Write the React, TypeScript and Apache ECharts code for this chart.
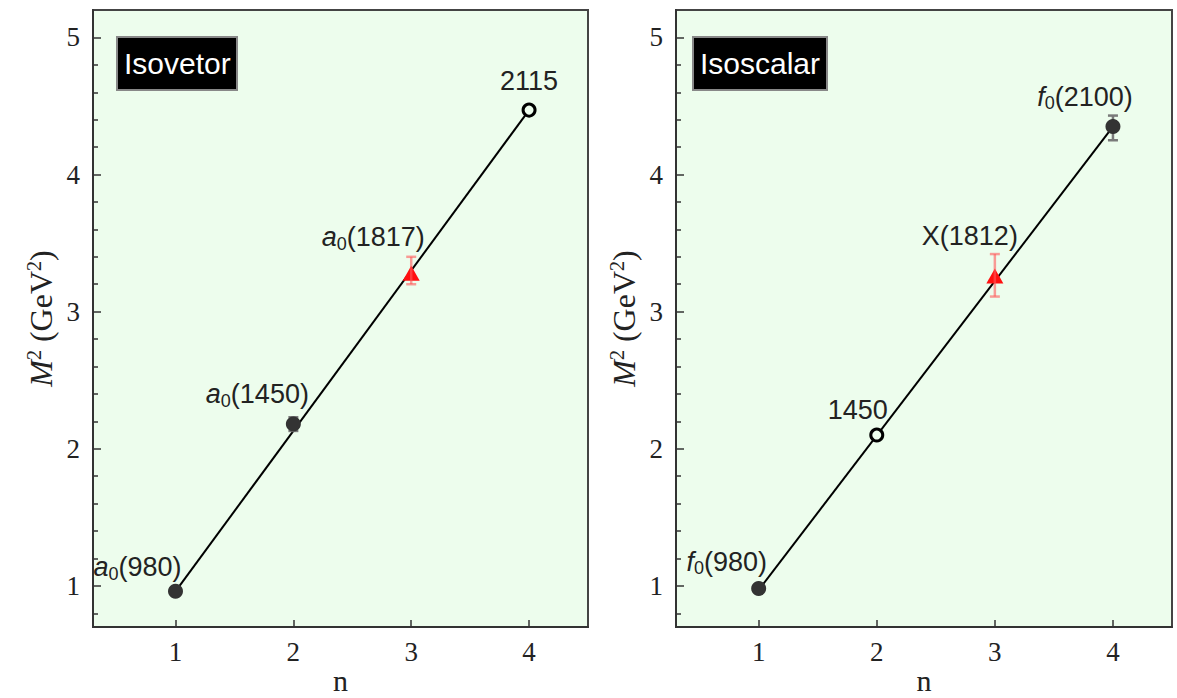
import React, { useEffect, useRef } from "react";
import * as echarts from "echarts";

// ---------- data ----------
const nValues = [1, 2, 3, 4];
const xTickValues = [1, 2, 3, 4];
const yTickValues = [1, 2, 3, 4, 5];
const yMinorTickValues = [0.8, 1.2, 1.4, 1.6, 1.8, 2.2, 2.4, 2.6, 2.8, 3.2, 3.4, 3.6, 3.8, 4.2, 4.4, 4.6, 4.8];

// Isovector panel
const isovectorTitle = "Isovetor";
const isovectorNames = ["{i|a}{s|0}(980)", "{i|a}{s|0}(1450)", "{i|a}{s|0}(1817)", "2115"];
const isovectorM2 = [0.96, 2.18, 3.28, 4.47];
const isovectorKinds = ["filled", "filled", "predicted", "open"];
const isovectorErrLow = [null, 2.13, 3.2, null];
const isovectorErrHigh = [null, 2.23, 3.4, null];
const isovectorFitN = [1, 4];
const isovectorFitM2 = [0.96, 4.47];

// Isoscalar panel
const isoscalarTitle = "Isoscalar";
const isoscalarNames = ["{i|f}{s|0}(980)", "1450", "X(1812)", "{i|f}{s|0}(2100)"];
const isoscalarM2 = [0.98, 2.1, 3.26, 4.35];
const isoscalarKinds = ["filled", "open", "predicted", "filled"];
const isoscalarErrLow = [null, null, 3.11, 4.25];
const isoscalarErrHigh = [null, null, 3.42, 4.43];
const isoscalarFitN = [1, 4];
const isoscalarFitM2 = [0.97, 4.35];

// ---------- layout / style ----------
const labelOffsetsLeft = [[-38, -24], [-36, -30], [-38, -36], [0, -29]];
const labelOffsetsRight = [[-32, -27], [-19, -25], [-25, -40], [-28, -30]];
const BG = "#edfded";
const SERIF = "'Liberation Serif', 'Times New Roman', serif";
const SANS = "'Liberation Sans', Arial, sans-serif";
const LABEL_SIZE = 27;

const richLabel = {
  i: { fontStyle: "italic", fontSize: LABEL_SIZE, fontFamily: SANS, color: "#222" },
  s: { fontSize: 18, fontFamily: SANS, color: "#222", padding: [13, 0, 0, 0] },
};

function buildPanel(
  gi: number,
  names: string[],
  m2: number[],
  kinds: string[],
  errLow: (number | null)[],
  errHigh: (number | null)[],
  fitN: number[],
  fitM2: number[],
  offsets: number[][]
) {
  const item = (k: number) => ({
    value: [nValues[k], m2[k]],
    label: {
      show: true,
      position: "inside",
      offset: offsets[k],
      formatter: names[k],
      fontSize: LABEL_SIZE,
      fontFamily: SANS,
      color: "#222",
      rich: richLabel,
    },
  });
  const idx = (kind: string) => nValues.map((_, k) => k).filter((k) => kinds[k] === kind);
  const errData = (kind: string) =>
    nValues
      .map((_, k) => k)
      .filter((k) => errLow[k] != null && kinds[k] === kind)
      .map((k) => [nValues[k], errLow[k], errHigh[k]]);
  const errSeries = (kind: string, color: string, z: number) => ({
    type: "custom",
    xAxisIndex: gi,
    yAxisIndex: gi * 2,
    z,
    encode: { x: 0, y: [1, 2] },
    data: errData(kind),
    renderItem: (params: any, api: any) => {
      const x = api.value(0);
      const p1 = api.coord([x, api.value(1)]);
      const p2 = api.coord([x, api.value(2)]);
      const w = 5;
      const style = { stroke: color, lineWidth: 2.5 };
      return {
        type: "group",
        children: [
          { type: "line", shape: { x1: p1[0], y1: p1[1], x2: p2[0], y2: p2[1] }, style },
          { type: "line", shape: { x1: p1[0] - w, y1: p1[1], x2: p1[0] + w, y2: p1[1] }, style },
          { type: "line", shape: { x1: p2[0] - w, y1: p2[1], x2: p2[0] + w, y2: p2[1] }, style },
        ],
      };
    },
  });
  return [
    {
      type: "line",
      xAxisIndex: gi,
      yAxisIndex: gi * 2,
      data: fitN.map((n, k) => [n, fitM2[k]]),
      symbol: "none",
      lineStyle: { color: "#000", width: 2 },
      z: 2,
    },
    errSeries("filled", "#7a7a7a", 3),
    {
      type: "scatter",
      xAxisIndex: gi,
      yAxisIndex: gi * 2,
      symbol: "circle",
      symbolSize: 15,
      itemStyle: { color: "#333", opacity: 1 },
      data: idx("filled").map(item),
      z: 4,
    },
    {
      type: "scatter",
      xAxisIndex: gi,
      yAxisIndex: gi * 2,
      symbol: "circle",
      symbolSize: 12,
      itemStyle: { color: BG, borderColor: "#000", borderWidth: 3, opacity: 1 },
      data: idx("open").map(item),
      z: 4,
    },
    {
      type: "scatter",
      xAxisIndex: gi,
      yAxisIndex: gi * 2,
      symbol: "triangle",
      symbolSize: [17, 15],
      itemStyle: { color: "#ff1010", opacity: 1 },
      data: idx("predicted").map(item),
      z: 4,
    },
    errSeries("predicted", "rgba(255,90,90,0.6)", 5),
  ];
}

function xAxis(gi: number) {
  return {
    type: "value",
    gridIndex: gi,
    min: 0.3,
    max: 4.5,
    name: "n",
    nameLocation: "middle",
    nameMoveOverlap: false,
    nameGap: 38,
    nameTextStyle: { fontFamily: SERIF, fontSize: 30, lineHeight: 30, color: "#222" },
    axisLine: { show: true, lineStyle: { color: "#333", width: 2 } },
    axisTick: { show: true, inside: true, length: 7, customValues: xTickValues, lineStyle: { color: "#333", width: 1.5 } },
    axisLabel: { customValues: xTickValues, fontFamily: SERIF, fontSize: 27, color: "#222", margin: 11 },
    splitLine: { show: false },
  };
}

function yAxes(gi: number) {
  return [
    {
      type: "value",
      gridIndex: gi,
      position: "left",
      min: 0.7,
      max: 5.2,
      name: "{it|M}{sup|2} (GeV{sup|2})",
      nameLocation: "middle",
      nameMoveOverlap: false,
      nameGap: 36,
      nameTextStyle: {
        fontFamily: SERIF,
        fontSize: 32,
        color: "#222",
        rich: {
          it: { fontFamily: SERIF, fontSize: 32, fontStyle: "italic", color: "#222" },
          sup: { fontFamily: SERIF, fontSize: 20, color: "#222", padding: [0, 0, 13, 0] },
        },
      },
      axisLine: { show: true, lineStyle: { color: "#333", width: 2 } },
      axisTick: { show: true, inside: true, length: 8, customValues: yTickValues, lineStyle: { color: "#333", width: 1.5 } },
      axisLabel: { customValues: yTickValues, fontFamily: SERIF, fontSize: 27, color: "#222", margin: 13 },
      splitLine: { show: false },
    },
    {
      type: "value",
      gridIndex: gi,
      position: "left",
      offset: 0,
      min: 0.7,
      max: 5.2,
      axisLine: { show: false },
      axisTick: { show: true, inside: true, length: 5, customValues: yMinorTickValues, lineStyle: { color: "#333", width: 1.5 } },
      axisLabel: { show: false },
      splitLine: { show: false },
    },
  ];
}

function titleBox(text: string, left: number) {
  return {
    text,
    left,
    top: 37,
    backgroundColor: "#000",
    borderColor: "#888",
    borderWidth: 2,
    padding: [11, 7, 11, 7],
    textStyle: { color: "#fff", fontFamily: SANS, fontSize: 30, fontWeight: "normal", lineHeight: 31 },
  };
}

export default function App() {
  const ref = useRef<HTMLDivElement>(null);
  useEffect(() => {
    if (!ref.current) return;
    const chart = echarts.init(ref.current, null, { renderer: "svg" });
    chart.setOption({
      animation: false,
      backgroundColor: "#fff",
      title: [titleBox(isovectorTitle, 117), titleBox(isoscalarTitle, 693)],
      grid: [
        { left: 93, top: 10, width: 495, height: 617, outerBoundsMode: "none", containLabel: false, show: true, backgroundColor: BG, borderColor: "#444", borderWidth: 2 },
        { left: 676, top: 10, width: 496, height: 617, outerBoundsMode: "none", containLabel: false, show: true, backgroundColor: BG, borderColor: "#444", borderWidth: 2 },
      ],
      xAxis: [xAxis(0), xAxis(1)],
      yAxis: [...yAxes(0), ...yAxes(1)],
      series: [
        ...buildPanel(0, isovectorNames, isovectorM2, isovectorKinds, isovectorErrLow, isovectorErrHigh, isovectorFitN, isovectorFitM2, labelOffsetsLeft),
        ...buildPanel(1, isoscalarNames, isoscalarM2, isoscalarKinds, isoscalarErrLow, isoscalarErrHigh, isoscalarFitN, isoscalarFitM2, labelOffsetsRight),
      ],
    });
    return () => chart.dispose();
  }, []);
  return <div ref={ref} style={{ position: "absolute", left: 0, top: 0, width: 1177, height: 698 }} />;
}
